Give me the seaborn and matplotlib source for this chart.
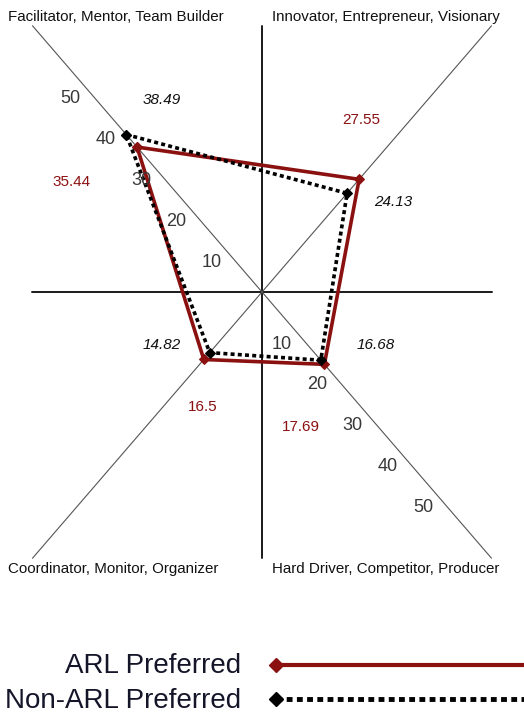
import numpy as np
import pandas as pd
import matplotlib
matplotlib.use("Agg")
import matplotlib.pyplot as plt
from matplotlib.lines import Line2D
import seaborn as sns

# 数据
quadrants = ["Facilitator, Mentor, Team Builder", "Innovator, Entrepreneur, Visionary",
             "Hard Driver, Competitor, Producer", "Coordinator, Monitor, Organizer"]
arl_scores = [35.44, 27.55, 17.69, 16.5]
non_arl_scores = [38.49, 24.13, 16.68, 14.82]
scale_ticks = [10, 20, 30, 40, 50]
series_names = ["ARL Preferred", "Non-ARL Preferred"]

sns.set_style("white")
plt.rcParams['font.family'] = ['Liberation Sans', 'DejaVu Sans']

W, H = 524, 715
CX, CY = 262, 292        # 原点像素位置
PPU = 5.4                # 每单位像素
ARM_X, ARM_Y = 42.5, 49.3
RED = '#8b1111'
INK = '#111111'

fig = plt.figure(figsize=(W / 100, H / 100), dpi=100)
ax = fig.add_axes([0, 0, 1, 1])
ax.axis('off')

theta = np.arctan2(ARM_Y, ARM_X)
dirs = np.array([[-np.cos(theta), np.sin(theta)],    # 左上
                 [np.cos(theta), np.sin(theta)],     # 右上
                 [np.cos(theta), -np.sin(theta)],    # 右下
                 [-np.cos(theta), -np.sin(theta)]])  # 左下
arm_len = np.hypot(ARM_X, ARM_Y)

# 坐标轴骨架
ax.plot([-ARM_X, ARM_X], [0, 0], color='#1a1a1a', lw=1.4)
ax.plot([0, 0], [-ARM_Y, ARM_Y], color='#1a1a1a', lw=1.4)
for d in dirs:
    ax.plot([0, d[0] * arm_len], [0, d[1] * arm_len], color='#555555', lw=0.8)

# 刻度标签 (左上与右下两条对角线)
for qi in (0, 2):
    for t in scale_ticks:
        ax.annotate(str(t), xy=(dirs[qi, 0] * t, dirs[qi, 1] * t), xytext=(-11, -8),
                    textcoords='offset points', ha='center', va='center',
                    fontsize=13, color='#383838')

# 多边形
def polygon_df(scores, name):
    pts = dirs * np.array(scores)[:, None]
    pts = np.vstack([pts, pts[:1]])
    return pd.DataFrame({'x': pts[:, 0], 'y': pts[:, 1], 'series': name})

sns.lineplot(data=polygon_df(arl_scores, series_names[0]), x='x', y='y', sort=False,
             estimator=None, color=RED, lw=2.6, marker='D', markersize=5,
             markeredgecolor=RED, ax=ax, legend=False)
sns.lineplot(data=polygon_df(non_arl_scores, series_names[1]), x='x', y='y', sort=False,
             estimator=None, color='black', lw=2.6, linestyle=(0, (1.1, 0.9)), marker='D',
             markersize=5, markeredgecolor='black', ax=ax, legend=False)
ax.set_xlim(-CX / PPU, (W - CX) / PPU)
ax.set_ylim(-(H - CY) / PPU, CY / PPU)
ax.axis('off')


def ftxt(px, py, s, **kw):
    fig.text(px / W, 1 - py / H, s, **kw)


# 象限标题
corner_pos = [(8, 21), (272, 21), (272, 573), (8, 573)]
for (px, py), name in zip(corner_pos, quadrants):
    ftxt(px, py, name, fontsize=10.9, color=INK, ha='left', va='baseline')

# 数值标签
arl_label_pos = [(52, 186), (342, 124), (282, 431), (188, 411)]
non_label_pos = [(143, 104), (374, 206), (357, 349), (143, 349)]
for (px, py), v in zip(arl_label_pos, arl_scores):
    ftxt(px, py, f"{v:g}", fontsize=11, color=RED, ha='left', va='baseline')
for (px, py), v in zip(non_label_pos, non_arl_scores):
    ftxt(px, py, f"{v:g}", fontsize=11, color=INK, style='italic', ha='left', va='baseline')

# 图例
ftxt(241, 673, series_names[0], fontsize=20, color='#15152a', ha='right', va='baseline')
ftxt(241, 708, series_names[1], fontsize=20, color='#15152a', ha='right', va='baseline')
fig.add_artist(Line2D([276 / W, 1.0], [1 - 665 / H] * 2, transform=fig.transFigure,
                      color=RED, lw=3, marker='D', markersize=7, markevery=[0]))
fig.add_artist(Line2D([276 / W, 1.0], [1 - 699 / H] * 2, transform=fig.transFigure,
                      color='black', lw=3.5, linestyle=(0, (1.2, 0.9)), marker='D',
                      markersize=7, markevery=[0]))

fig.savefig('out.png', dpi=100, facecolor='white')
